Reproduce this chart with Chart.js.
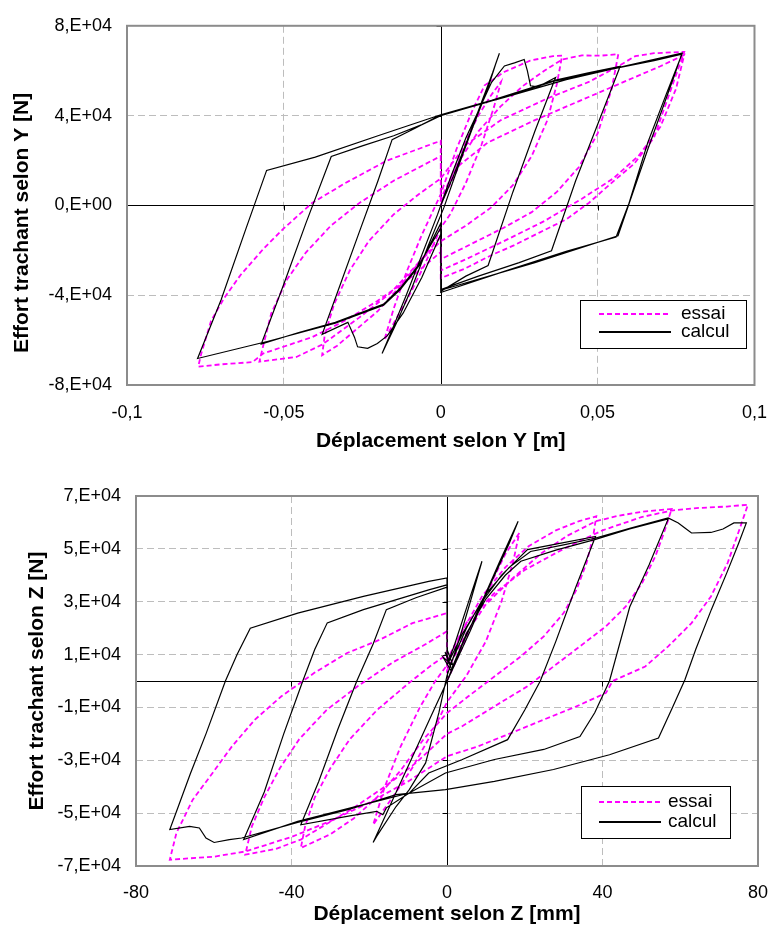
<!DOCTYPE html>
<html>
<head>
<meta charset="utf-8">
<script src="https://cdn.jsdelivr.net/npm/chart.js@4.4.1/dist/chart.umd.min.js"></script>
<style>
  html, body { margin: 0; padding: 0; background: #fff; }
  canvas { display: block; }
</style>
</head>
<body>
<canvas id="chartY" width="784" height="460"></canvas>
<canvas id="chartZ" width="784" height="467"></canvas>
<script>
// Effort tranchant / deplacement, essai vs calcul
// points [deplacement, effort]
const topXTicks = [-0.1, -0.05, 0, 0.05, 0.1];
const topYTicks = [-80000, -40000, 0, 40000, 80000];
const botXTicks = [-80, -40, 0, 40, 80];
const botYTicks = [-70000, -50000, -30000, -10000, 10000, 30000, 50000, 70000];
const seriesNames = ['essai', 'calcul'];

// selon Y [m]
const topEssai = [
  [0,0],[0.004,15000],[0.008,29000],[0.012,40000],[0.016,49000],[0.0192,55000],
  [0.017,44000],[0.013,27000],[0.008,10000],[0.003,-4000],[0,-10000],[-0.005,-26000],[-0.010,-40000],[-0.014,-50000],[-0.018,-60000],
  [-0.015,-46000],[-0.011,-30000],[-0.006,-13000],[-0.002,-1000],[0,5000],
  [0.005,25000],[0.010,42000],[0.014,53500],[0.0202,59400],[0.0285,64500],[0.0358,66500],[0.0387,66700],
  [0.037,54000],[0.034,38000],[0.029,22000],[0.023,9000],[0.016,-1000],[0.008,-9000],[0,-16000],
  [-0.006,-24000],[-0.013,-36000],[-0.020,-47000],[-0.028,-56500],[-0.033,-62500],[-0.0378,-66700],
  [-0.037,-58000],[-0.034,-44000],[-0.029,-29000],[-0.023,-16000],[-0.015,-4000],[-0.007,5000],[0,12000],[0,3000],
  [0.006,20000],[0.012,33000],[0.019,44000],[0.026,53000],[0.033,60000],[0.0387,65000],[0.045,66800],[0.051,66700],[0.0566,67400],
  [0.0545,52000],[0.050,32000],[0.044,17000],[0.037,6000],[0.029,-3000],[0.020,-10000],[0.010,-17000],[0,-24000],[0,-14000],
  [-0.008,-27000],[-0.016,-39000],[-0.026,-50000],[-0.0378,-62000],[-0.046,-67500],[-0.0578,-69600],
  [-0.0565,-62000],[-0.054,-48000],[-0.049,-33000],[-0.043,-21000],[-0.035,-9000],[-0.026,1000],[-0.015,11000],[0,22000],[0,12000],
  [0.008,27000],[0.0192,38000],[0.0337,47500],[0.0472,55000],[0.0566,62000],[0.062,66500],[0.068,67800],[0.0776,68400],
  [0.0742,55000],[0.068,30300],[0.0617,18600],[0.0555,11300],[0.0472,1100],[0.040,-6200],[0.0316,-12000],[0.0233,-17800],[0.0161,-22200],[0.0078,-28100],[0,-32400],[0,-20800],
  [-0.0098,-32400],[-0.0202,-42600],[-0.0306,-51400],[-0.041,-58700],[-0.0565,-65900],[-0.060,-69800],[-0.070,-70800],[-0.0773,-71800],
  [-0.0763,-65900],[-0.0732,-51400],[-0.069,-41200],[-0.0638,-31000],[-0.0565,-19300],[-0.0503,-10600],[-0.041,1100],[-0.0306,9800],[-0.0171,20000],[0,28800],[0,1000],
  [0.006,18000],[0.015,28000],[0.030,38000],[0.045,47000],[0.060,56000],[0.070,62000],[0.0776,67000],
  [0.075,52000],[0.070,35000],[0.063,22000],[0.055,12000],[0.045,3000],[0.033,-7000],[0.020,-16000],[0.008,-24000],[0,-29000]
];

const topCalcul = [
  [0,0],[0.004,13000],[0.009,31000],[0.013,46000],[0.0165,59000],[0.0187,67800],
  [0.0175,63000],[0.015,52000],[0.010,34000],[0.005,15000],[0.001,-1000],[-0.004,-18000],[-0.009,-36000],[-0.014,-52000],[-0.0187,-66000],
  [-0.016,-57000],[-0.011,-40000],[-0.006,-22000],[-0.001,-4000],[0.003,12000],[0.008,30000],[0.012,42000],[0.0162,54800],[0.0203,62100],[0.0235,63500],[0.0266,65000],[0.0276,60000],[0.0286,53300],[0.031,52800],[0.0366,57000],
  [0.030,33000],[0.023,6000],[0.0151,-26800],[0.008,-31500],[0,-38300],[0,-12800],
  [-0.006,-32000],[-0.012,-48000],[-0.017,-58000],[-0.0202,-61500],[-0.0233,-63700],[-0.0265,-63000],[-0.0275,-58700],[-0.0296,-52100],[-0.0378,-57400],
  [-0.033,-39000],[-0.026,-12000],[-0.020,11000],[-0.0155,29300],[-0.008,34500],[0,40400],[0.0162,46800],[0.0366,55800],[0.047,59000],[0.0572,62000],
  [0.050,36000],[0.043,11000],[0.0353,-20200],[0.025,-25500],[0.012,-31500],[0,-37500],[0,-10000],
  [-0.0067,-25900],[-0.0129,-36800],[-0.0182,-44000],[-0.0336,-52100],[-0.045,-56500],[-0.0572,-61800],
  [-0.050,-35000],[-0.043,-8000],[-0.0349,21800],[-0.025,26500],[-0.015,31000],[-0.006,36000],[0,40000],[0.0162,46500],[0.0366,55500],[0.0572,61500],[0.068,64500],[0.0769,67400],
  [0.072,50000],[0.066,28000],[0.060,1000],[0.0559,-14100],[0.040,-20500],[0.020,-29500],[0,-38800],[0,-8000],
  [-0.0067,-26500],[-0.0129,-37500],[-0.0182,-44500],[-0.0336,-52500],[-0.055,-60500],[-0.0775,-68200],
  [-0.070,-42000],[-0.062,-10000],[-0.0555,15600],[-0.040,21500],[-0.020,31000],[0,40400],[0.020,48000],[0.040,56000],[0.060,62500],[0.0769,67800],
  [0.0745,58000],[0.066,25000],[0.0565,-13500],[0.030,-25500],[0,-37800]
];

// selon Z [mm]
const botEssai = [
  [0,0],[4,13000],[8,27000],[12,39000],[15,48000],[18.6,56000],
  [17,45000],[14,30000],[10,15000],[5,2000],[0,-8000],[-4,-20000],[-9,-33000],[-14,-44000],[-19,-54400],
  [-16,-40000],[-12,-25000],[-7,-10000],[-3,0],[0,6000],
  [4,19000],[9,32000],[15,43000],[21,51000],[28,57000],[34,60500],[38.4,62300],
  [37.6,54700],[35.9,44700],[33.3,34500],[30,25700],[24.9,16900],[19,9300],[12.2,1700],[5.5,-5800],[0,-12100],
  [-6,-22000],[-12,-34000],[-18,-44000],[-24,-52000],[-30,-58000],[-37.6,-63200],
  [-36.5,-55000],[-34,-44000],[-30,-33000],[-25,-22000],[-18,-11000],[-10,-1000],[-4,6000],[0,10000],[0,4000],
  [5,18000],[10,29000],[17,39000],[24,48000],[31,55000],[38.4,60500],[44,62500],[50,64000],[57.8,65100],
  [56.1,57300],[53.6,47200],[50.2,37100],[46,28200],[40.9,20700],[34.2,13100],[27.4,5500],[20.7,-2000],[12.2,-9600],[3.8,-17200],[0,-20000],
  [-8,-31000],[-16,-40000],[-24,-48000],[-32,-55000],[-37.6,-60000],[-44,-63500],[-51.9,-65700],
  [-50.2,-55000],[-47,-44000],[-43,-33000],[-38,-22000],[-31,-11000],[-23,-2000],[-14,7000],[-6,13500],[0,18800],[0,8000],
  [5,22000],[12,33000],[20,42000],[30,50000],[40,57000],[50,62000],[57.8,64500],[65,65500],[72,66000],[77.4,66700],
  [75.5,58500],[72.2,44700],[67.9,32000],[62.9,21900],[56.9,13100],[51,5500],[42.6,0],[40.9,-4500],[33.3,-9600],[24.9,-14600],[16.5,-19700],[8,-24700],[0,-28500],
  [-10,-38000],[-20,-46000],[-30,-53000],[-40,-59000],[-51.9,-64500],[-60,-66500],[-71.3,-67600],
  [-69.6,-57500],[-65.4,-44900],[-60.3,-34800],[-55.3,-24700],[-49.4,-14600],[-42.6,-5800],[-34.2,3000],[-25.7,10600],[-17.3,15600],[-8.9,21900],[0,25700]
];

const botCalcul = [
  [0,0],[4,14000],[9,30000],[13.5,45000],[18.3,60400],
  [16,52000],[11,36000],[6,19000],[1,3000],[-4,-13000],[-9,-29000],[-14,-45000],[-19,-61100],
  [-18.1,-58800],[-13.1,-47500],[-9.7,-41100],[-5.5,-31000],[-2.1,-12100],[0,2000],
  [3,15000],[6,30000],[9,45300],[6,32000],[2,14000],[0,6000],
  [4,18000],[9,30000],[14,40000],[20.7,49700],[28,51800],[38.2,54700],
  [33,35000],[28,15000],[24,0],[20,-11000],[15.6,-22200],
  [3.8,-29800],[-4.7,-34800],[-9.7,-42400],[-15.6,-48000],[-16.5,-50600],[-18.1,-49300],[-25,-51000],[-37.6,-54400],
  [-33,-38000],[-28,-18000],[-23.2,0],[-19,14000],[-15.6,27000],[-8,31500],[0,35500],[0,12000],
  [1.5,6000],[-1,9000],[1,4000],
  [5,18000],[10,31000],[15,40000],[19,45300],[28,49500],[38,53500],[47,57500],[56.9,61300],
  [52,44000],[47,28000],[41.8,0],[38,-12000],[34.2,-21000],
  [24.9,-25900],[12.2,-29700],[-0.4,-34800],[-9.7,-42400],[-21.5,-46800],[-38.4,-53100],[-52.3,-60000],
  [-47,-42000],[-42,-20000],[-37.1,0],[-34,12000],[-30.8,22000],[-21.5,27000],[-4.7,34500],[0,36400],[0,10000],
  [1,5000],[-0.5,11000],[0.8,6000],
  [5,20000],[10,33000],[16,43000],[21.5,49000],[30,51500],[38,54000],[47,57800],[56.9,61700],[59.5,59800],[61.2,57900],[62.9,56000],[67.9,56200],[71,57500],[73.8,59800],[77,59800],
  [75,52000],[72,41000],[68,27000],[64,12000],[61.2,500],[58,-10000],[54.4,-21600],
  [41.8,-27900],[27.4,-33500],[12.2,-38000],[-0.4,-41100],[-13.1,-43000],[-25,-48500],[-38.4,-53500],[-52.8,-59400],[-56,-60000],[-59.9,-61100],[-62,-59400],[-63.7,-55600],[-66.2,-55000],[-71.3,-56200],
  [-69,-47000],[-66,-35000],[-62,-20000],[-57,0],[-54,10000],[-50.6,20000],
  [-38.4,25700],[-21.5,32000],[-4.7,37700],[0,39000],[0,11000]
];

const FONT = '"Liberation Sans", Arial, sans-serif';
Chart.defaults.font.family = FONT;
Chart.defaults.color = '#000';

function toPoints(arr) {
  return arr.map(p => ({ x: p[0], y: p[1] }));
}

// 8,E+04 style
function sciLabel(v) {
  if (v === 0) return '0,E+00';
  const e = Math.floor(Math.log10(Math.abs(v)) + 1e-9);
  const m = Math.round(v / Math.pow(10, e));
  return m + ',E+' + String(e).padStart(2, '0');
}
function decLabel(v) {
  return String(v).replace('.', ',');
}

// zero axes, frame, small ticks and legend box
const excelFrame = {
  id: 'excelFrame',
  beforeDatasetsDraw(chart) {
    const { ctx, chartArea: a, scales: { x, y } } = chart;
    const x0 = Math.round(x.getPixelForValue(0)) + 0.5;
    const y0 = Math.round(y.getPixelForValue(0)) + 0.5;
    ctx.save();
    ctx.strokeStyle = '#000';
    ctx.lineWidth = 1;
    ctx.beginPath();
    ctx.moveTo(a.left, y0); ctx.lineTo(a.right, y0);
    ctx.moveTo(x0, a.top); ctx.lineTo(x0, a.bottom);
    y.ticks.forEach(t => {
      const p = Math.round(y.getPixelForValue(t.value)) + 0.5;
      ctx.moveTo(x0 - 5, p); ctx.lineTo(x0, p);
    });
    x.ticks.forEach(t => {
      const p = Math.round(x.getPixelForValue(t.value)) + 0.5;
      ctx.moveTo(p, y0); ctx.lineTo(p, y0 + 5);
    });
    ctx.stroke();
    ctx.strokeStyle = '#8c8c8c';
    ctx.lineWidth = 2;
    ctx.strokeRect(a.left, a.top, a.right - a.left, a.bottom - a.top);
    ctx.restore();
  },
  afterDraw(chart, args, opts) {
    const b = opts.box;
    if (!b) return;
    const { ctx } = chart;
    ctx.save();
    ctx.fillStyle = '#fff';
    ctx.fillRect(b.x, b.y, b.w, b.h);
    ctx.strokeStyle = '#000';
    ctx.lineWidth = 1;
    ctx.strokeRect(b.x + 0.5, b.y + 0.5, b.w, b.h);
    ctx.font = '19px ' + FONT;
    ctx.textBaseline = 'middle';
    ctx.fillStyle = '#000';
    chart.data.datasets.forEach((ds, i) => {
      const yy = b.y + b.rows[i];
      ctx.beginPath();
      ctx.strokeStyle = ds.borderColor;
      ctx.lineWidth = 2;
      ctx.setLineDash(ds.borderDash || []);
      ctx.moveTo(b.x + b.line[0], yy);
      ctx.lineTo(b.x + b.line[1], yy);
      ctx.stroke();
      ctx.setLineDash([]);
      ctx.fillText(ds.label, b.x + b.textX, yy);
    });
    ctx.restore();
  }
};

function gridColor(c) {
  return c.tick && c.tick.value === 0 ? 'rgba(0,0,0,0)' : '#bdbdbd';
}

function makeChart(id, s) {
  return new Chart(document.getElementById(id), {
    type: 'scatter',
    data: {
      datasets: [{
        label: seriesNames[0],
        data: toPoints(s.essai),
        showLine: true,
        borderColor: '#ff00ff',
        borderWidth: 1.8,
        borderDash: [5, 3],
        pointRadius: 0,
        order: 1
      }, {
        label: seriesNames[1],
        data: toPoints(s.calcul),
        showLine: true,
        borderColor: '#000000',
        borderWidth: 1.2,
        pointRadius: 0,
        order: 0
      }]
    },
    options: {
      responsive: false,
      animation: false,
      layout: { autoPadding: false, padding: s.padding },
      plugins: {
        legend: { display: false },
        tooltip: { enabled: false },
        excelFrame: { box: s.box }
      },
      scales: {
        x: {
          type: 'linear',
          min: s.xTicks[0],
          max: s.xTicks[s.xTicks.length - 1],
          afterBuildTicks: sc => { sc.ticks = s.xTicks.map(v => ({ value: v })); },
          afterFit: sc => { sc.height = s.xHeight; },
          ticks: { callback: s.xFmt, font: { size: 18 }, padding: s.xPad, maxRotation: 0 },
          grid: { color: gridColor, drawTicks: false, lineWidth: 1 },
          border: { display: false, dash: [7, 4] },
          title: {
            display: true,
            text: s.xTitle,
            font: { size: 21, weight: 'bold' },
            padding: { top: 0, bottom: s.xTitlePad }
          }
        },
        y: {
          type: 'linear',
          min: s.yTicks[0],
          max: s.yTicks[s.yTicks.length - 1],
          afterBuildTicks: sc => { sc.ticks = s.yTicks.map(v => ({ value: v })); },
          afterFit: sc => { sc.width = s.yWidth; },
          ticks: { callback: sciLabel, font: { size: 18 }, padding: 15 },
          grid: { color: gridColor, drawTicks: false, lineWidth: 1 },
          border: { display: false, dash: [7, 4] },
          title: {
            display: true,
            text: s.yTitle,
            font: { size: 21, weight: 'bold' },
            padding: { top: s.yTitlePad, bottom: 0 }
          }
        }
      }
    },
    plugins: [excelFrame]
  });
}

makeChart('chartY', {
  essai: topEssai, calcul: topCalcul,
  xTicks: topXTicks, yTicks: topYTicks, xFmt: decLabel,
  padding: { left: 0, right: 15, top: 19, bottom: 0 },
  yWidth: 127, xHeight: 75, xPad: 17, xTitlePad: 6, yTitlePad: 10,
  xTitle: 'Déplacement selon Y [m]',
  yTitle: 'Effort trachant selon Y [N]      ',
  box: { x: 580, y: 300, w: 166, h: 48, line: [19, 91], textX: 101, rows: [14, 32] }
});

makeChart('chartZ', {
  essai: botEssai, calcul: botCalcul,
  xTicks: botXTicks, yTicks: botYTicks, xFmt: decLabel,
  padding: { left: 0, right: 16, top: 36, bottom: 0 },
  yWidth: 136, xHeight: 61, xPad: 16, xTitlePad: 0, yTitlePad: 25,
  xTitle: 'Déplacement selon Z [mm]',
  yTitle: 'Effort trachant selon Z [N]',
  box: { x: 581, y: 326, w: 149, h: 52, line: [18, 80], textX: 87, rows: [16, 36] }
});
</script>
</body>
</html>
